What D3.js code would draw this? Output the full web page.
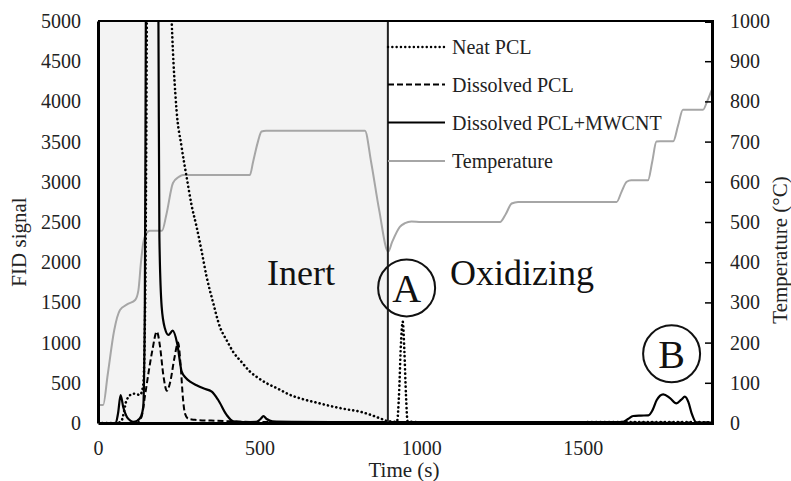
<!DOCTYPE html>
<html>
<head>
<meta charset="utf-8">
<script src="https://cdn.jsdelivr.net/npm/d3@7"></script>
<style>
  html, body { margin: 0; padding: 0; background: #ffffff; }
  svg { display: block; font-family: "Liberation Serif", "Times New Roman", serif; }
</style>
</head>
<body>
<svg id="chart" width="791" height="481"></svg>
<script>
// ---- Data ----
const seriesNames = ["Neat PCL", "Dissolved PCL", "Dissolved PCL+MWCNT", "Temperature"];

// Neat PCL (FID signal), [time s, signal]
const neatTime   = [0, 60, 73, 89, 109, 130, 140, 146, 150, 153, 160, 180, 200, 215, 228, 243, 258, 274, 290, 305, 320, 336, 356, 377, 398, 419, 444, 470, 496, 522, 560, 594, 625, 680, 728, 770, 811, 845, 873, 895, 925, 932, 937, 943, 948, 953, 958, 1000, 1200, 1400, 1600, 1900];
const neatSignal = [0, 0, 30, 290, 365, 350, 470, 1500, 4000, 7000, 9000, 9500, 8500, 6800, 5000, 3894, 3450, 3064, 2700, 2442, 2150, 1820, 1500, 1198, 1030, 880, 760, 640, 560, 494, 420, 350, 307, 250, 203, 170, 141, 100, 58, 25, 15, 400, 950, 1260, 900, 350, 20, 10, 8, 8, 12, 10];

// Dissolved PCL (FID signal)
const dissTime   = [0, 120, 135, 145, 156, 168, 182, 192, 202, 213, 224, 236, 248, 256, 263, 269, 280, 300, 350, 420, 500, 700, 900, 1200, 1500, 1700, 1900];
const dissSignal = [0, 0, 80, 327, 618, 900, 1136, 950, 600, 400, 520, 800, 1000, 700, 300, 120, 50, 40, 30, 20, 12, 8, 6, 5, 5, 5, 5];

// Dissolved PCL+MWCNT (FID signal)
const mwcntTime   = [0, 55, 62, 70, 78, 89, 100, 109, 122, 133, 140, 145, 148, 152, 165, 178, 184, 187, 190, 197, 207, 218, 231, 245, 259, 272, 285, 305, 326, 352, 372, 398, 419, 450, 490, 503, 512, 522, 540, 600, 800, 1000, 1300, 1600, 1625, 1640, 1656, 1680, 1703, 1716, 1729, 1749, 1770, 1790, 1805, 1816, 1827, 1837, 1852, 1900];
const mwcntSignal = [0, 0, 120, 348, 200, 78, 30, 15, 30, 80, 200, 1500, 5000, 9000, 10000, 9000, 6500, 5000, 2300, 1447, 1178, 1095, 1148, 990, 638, 560, 514, 470, 431, 390, 286, 100, 20, 10, 15, 50, 85, 50, 20, 15, 12, 12, 12, 12, 15, 50, 87, 92, 95, 160, 286, 357, 310, 245, 290, 327, 260, 120, 5, 5];

// Temperature (°C)
const tempTime  = [0, 16, 30, 50, 68, 90, 115, 125, 133, 140, 151, 160, 198, 212, 232, 250, 263, 280, 470, 480, 495, 506, 520, 826, 845, 870, 898, 910, 934, 950, 970, 1000, 1244, 1262, 1280, 1300, 1605, 1620, 1636, 1650, 1702, 1715, 1728, 1740, 1780, 1795, 1810, 1825, 1872, 1885, 1899];
const tempValue = [45, 45, 120, 230, 281, 295, 306, 330, 400, 448, 473, 478, 478, 520, 597, 612, 617, 617, 617, 650, 700, 725, 727, 727, 650, 530, 426, 450, 488, 497, 501, 500, 500, 520, 546, 550, 550, 575, 600, 604, 604, 650, 700, 701, 701, 740, 779, 779, 779, 800, 828];

const xTicks = [0, 500, 1000, 1500];
const leftTicks = [0, 500, 1000, 1500, 2000, 2500, 3000, 3500, 4000, 4500, 5000];
const rightTicks = [0, 100, 200, 300, 400, 500, 600, 700, 800, 900, 1000];
const switchTime = 897; // inert -> oxidizing
const regionLabels = ["Inert", "Oxidizing"];
const markLabels = ["A", "B"];
const markPos = [[955, 1680], [1775, 860]]; // [time, FID signal] of circle centres

// ---- Layout ----
const svg = d3.select("#chart");
const L = 98, R = 712, T = 21, B = 423;
const x = d3.scaleLinear().domain([0, 1900]).range([L, R]);
const yL = d3.scaleLinear().domain([0, 5000]).range([B, T]);
const yR = d3.scaleLinear().domain([0, 1000]).range([B, T]);

svg.append("defs").append("clipPath").attr("id", "clip")
  .append("rect").attr("x", L).attr("y", T).attr("width", R - L).attr("height", B - T);

// inert shaded region
svg.append("rect").attr("x", L).attr("y", T).attr("width", x(switchTime) - L).attr("height", B - T)
  .attr("fill", "#f3f3f3");

const g = svg.append("g").attr("clip-path", "url(#clip)");

const zip = (a, b) => a.map((d, i) => [d, b[i]]);
const lineL = d3.line().x(d => x(d[0])).y(d => yL(d[1])).curve(d3.curveMonotoneX);
const lineR = d3.line().x(d => x(d[0])).y(d => yR(d[1])).curve(d3.curveMonotoneX);

// temperature
g.append("path").datum(zip(tempTime, tempValue)).attr("d", lineR)
  .attr("fill", "none").attr("stroke", "#a6a6a6").attr("stroke-width", 2);

// dissolved PCL dashed
g.append("path").datum(zip(dissTime, dissSignal)).attr("d", lineL)
  .attr("fill", "none").attr("stroke", "#000").attr("stroke-width", 2)
  .attr("stroke-dasharray", "6,3");

// neat PCL dotted
g.append("path").datum(zip(neatTime, neatSignal)).attr("d", lineL)
  .attr("fill", "none").attr("stroke", "#000").attr("stroke-width", 2.6)
  .attr("stroke-dasharray", "0.1,4.2").attr("stroke-linecap", "round");

// MWCNT solid
g.append("path").datum(zip(mwcntTime, mwcntSignal)).attr("d", lineL)
  .attr("fill", "none").attr("stroke", "#000").attr("stroke-width", 2.2);

// switch line
svg.append("line").attr("x1", x(switchTime)).attr("x2", x(switchTime)).attr("y1", T).attr("y2", B)
  .attr("stroke", "#222").attr("stroke-width", 2);

// frame
svg.append("line").attr("x1", L).attr("x2", R).attr("y1", T).attr("y2", T).attr("stroke", "#000").attr("stroke-width", 1.8);

// axes
const fs = "20px";
const ax = svg.append("g").attr("transform", `translate(0,${B})`)
  .call(d3.axisBottom(x).tickValues(xTicks).tickSize(0).tickPadding(18).tickFormat(d3.format("d")));
const ayl = svg.append("g").attr("transform", `translate(${L},0)`)
  .call(d3.axisLeft(yL).tickValues(leftTicks).tickSize(0).tickPadding(17).tickFormat(d3.format("d")));
const ayr = svg.append("g").attr("transform", `translate(${R},0)`)
  .call(d3.axisRight(yR).tickValues(rightTicks).tickSize(-7).tickPadding(18).tickFormat(d3.format("d")));
[ax, ayl, ayr].forEach(a => {
  a.attr("font-family", "Liberation Serif");
  a.selectAll("text").attr("font-size", fs).attr("font-family", "Liberation Serif").attr("fill", "#222");
  a.select(".domain").attr("stroke", "#000").attr("stroke-width", 3);
  a.selectAll(".tick line").attr("stroke", "#000").attr("stroke-width", 1.5);
});
ayr.selectAll(".tick").filter(d => d === 0 || d === 1000).select("line").remove();

// axis titles
svg.append("text").attr("x", (L + R) / 2 - 1).attr("y", 477).attr("text-anchor", "middle")
  .attr("font-size", "21px").attr("fill", "#222").text("Time (s)");
svg.append("text").attr("transform", "translate(26,242) rotate(-90)").attr("text-anchor", "middle")
  .attr("font-size", "21px").attr("fill", "#222").text("FID signal");
svg.append("text").attr("transform", "translate(787,250) rotate(-90)").attr("text-anchor", "middle")
  .attr("font-size", "21px").attr("fill", "#222").text("Temperature (°C)");

// region labels
svg.append("text").attr("x", 267).attr("y", 285).attr("font-size", "36px").attr("fill", "#111").text(regionLabels[0]);
svg.append("text").attr("x", 450).attr("y", 285).attr("font-size", "36px").attr("fill", "#111").text(regionLabels[1]);

// A / B circles
markLabels.forEach((m, i) => {
  const cx = x(markPos[i][0]) , cy = yL(markPos[i][1]);
  svg.append("circle").attr("cx", cx).attr("cy", cy).attr("r", 28.5)
    .attr("fill", "none").attr("stroke", "#111").attr("stroke-width", 2);
  svg.append("text").attr("x", cx).attr("y", cy + 14).attr("text-anchor", "middle")
    .attr("font-size", "40px").attr("fill", "#111").text(m);
});

// legend
const legY = [47, 84.5, 122.5, 161];
const legStyles = [
  {w: 2.4, dash: "0.1,4.2", cap: "round", c: "#000"},
  {w: 2, dash: "6,3", cap: "butt", c: "#000"},
  {w: 2.2, dash: null, cap: "butt", c: "#000"},
  {w: 2, dash: null, cap: "butt", c: "#a6a6a6"}
];
seriesNames.forEach((n, i) => {
  const s = legStyles[i];
  const ln = svg.append("line").attr("x1", 388).attr("x2", 445).attr("y1", legY[i]).attr("y2", legY[i])
    .attr("stroke", s.c).attr("stroke-width", s.w).attr("stroke-linecap", s.cap);
  if (s.dash) ln.attr("stroke-dasharray", s.dash);
  svg.append("text").attr("x", 452).attr("y", legY[i] + 7).attr("font-size", "20px").attr("fill", "#222").text(n);
});
</script>
</body>
</html>
